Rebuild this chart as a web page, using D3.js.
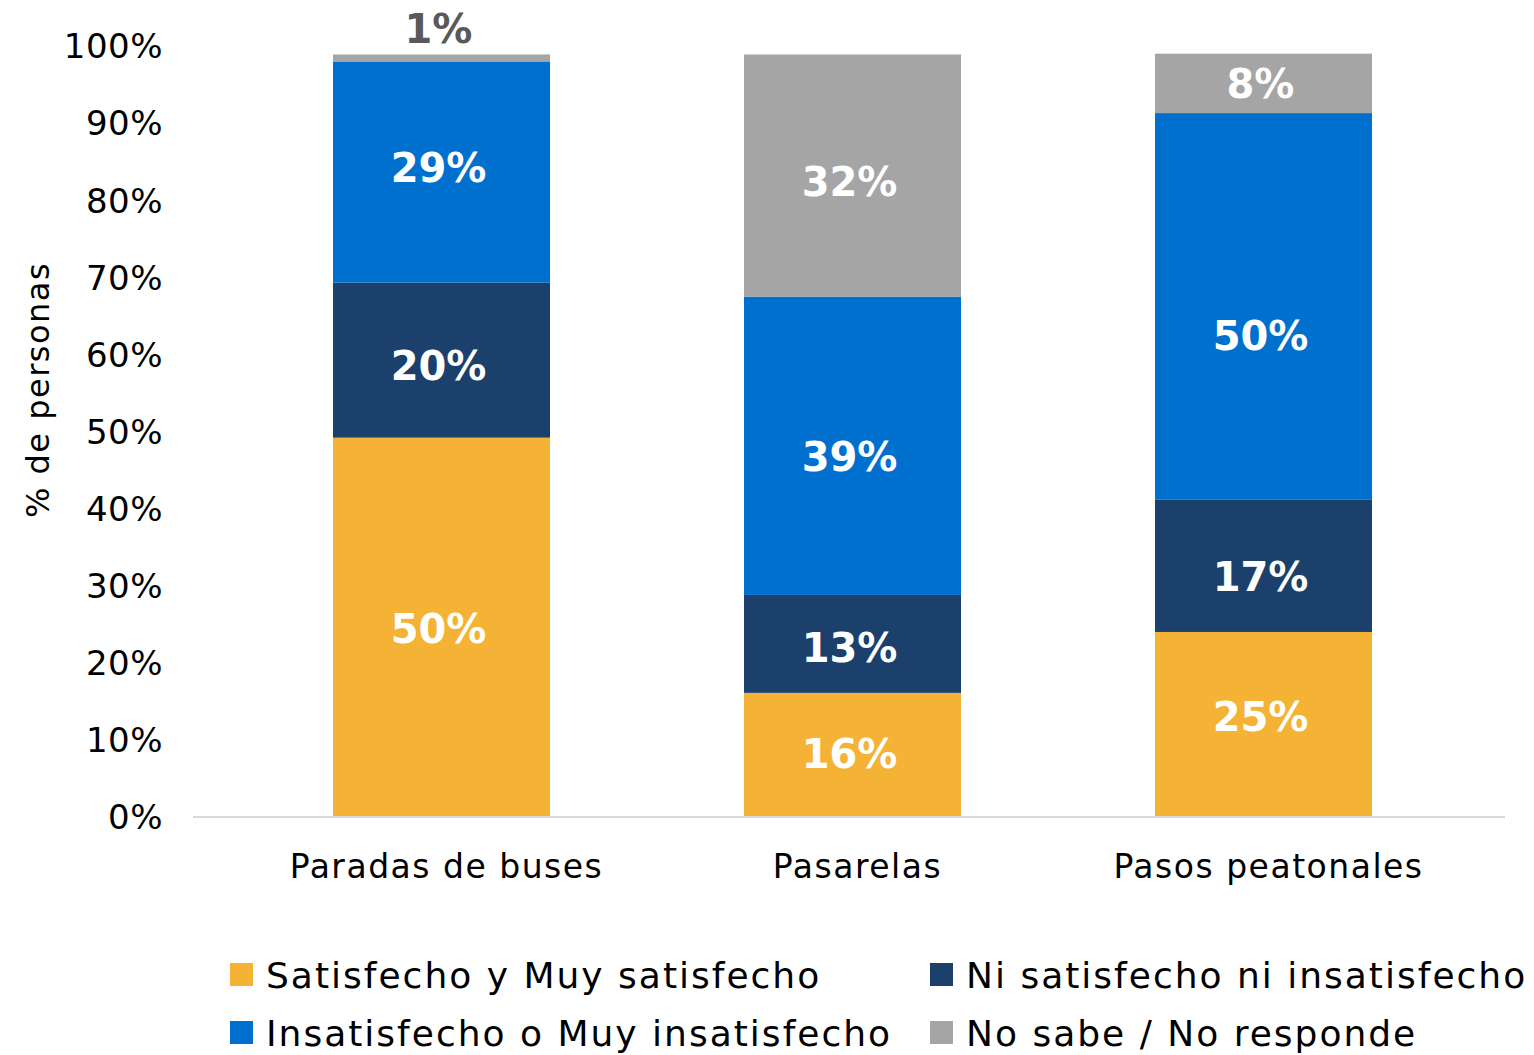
<!DOCTYPE html>
<html>
<head>
<meta charset="utf-8">
<script src="https://cdn.jsdelivr.net/npm/d3@7"></script>
<style>
  body { margin: 0; background: #fff; }
  text { font-family: "DejaVu Sans", sans-serif; }
</style>
</head>
<body>
<svg id="canvas" width="1534" height="1055"></svg>
<script>
// Data
let categories = ["Paradas de buses", "Pasarelas", "Pasos peatonales"];
let seriesNames = [
  "Satisfecho y Muy satisfecho",
  "Ni satisfecho ni insatisfecho",
  "Insatisfecho o Muy insatisfecho",
  "No sabe / No responde"
];
let satisfecho = [49.2, 16.1, 24.0];
let neutro = [20.1, 12.7, 17.2];
let insatisfecho = [28.7, 38.7, 50.1];
let noSabe = [0.9, 31.4, 7.7];
// printed labels
let satisfechoLbl = ["50%", "16%", "25%"];
let neutroLbl = ["20%", "13%", "17%"];
let insatisfechoLbl = ["29%", "39%", "50%"];
let noSabeLbl = ["1%", "32%", "8%"];
let yTicks = [0, 10, 20, 30, 40, 50, 60, 70, 80, 90, 100];
let colors = ["#F4B335", "#1B406C", "#0070CE", "#A5A5A5"];

// label nudges (px) as placed in the original chart
let nudge = [[1, -1, -8], [5, 4, 11], [-4, 11, 29], [0, 6, 0]];

let canvas = d3.select("#canvas");

let x = d3.scaleBand().domain(categories).range([236, 1469]).paddingInner(0.472).paddingOuter(0.236);
let y = d3.scaleLinear().domain([0, 100]).range([817, 46]);

let rows = categories.map((c, i) => ({
  cat: c,
  s0: satisfecho[i], s1: neutro[i], s2: insatisfecho[i], s3: noSabe[i]
}));
let labels = [satisfechoLbl, neutroLbl, insatisfechoLbl, noSabeLbl];
let stacked = d3.stack().keys(["s0", "s1", "s2", "s3"])(rows);

// bars
let groups = canvas.selectAll("g.series")
  .data(stacked)
  .enter()
  .append("g")
  .attr("class", "series")
  .attr("fill", (d, i) => colors[i]);

groups.selectAll("rect")
  .data(d => d)
  .enter()
  .append("rect")
  .attr("x", d => x(d.data.cat))
  .attr("width", x.bandwidth())
  .attr("y", d => y(d[1]))
  .attr("height", d => y(d[0]) - y(d[1]));

// value labels
stacked.forEach((s, si) => {
  s.forEach((d, ci) => {
    let small = d[1] - d[0] < 3;
    canvas.append("text")
      .attr("x", x(d.data.cat) + x.bandwidth() / 2 - 3)
      .attr("y", small ? y(d[1]) - 11 : (y(d[0]) + y(d[1])) / 2 + nudge[si][ci])
      .attr("dy", small ? "0" : "0.36em")
      .attr("text-anchor", "middle")
      .attr("font-size", 40)
      .attr("font-weight", "bold")
      .attr("fill", small ? "#595959" : "#fff")
      .text(labels[si][ci]);
  });
});

// baseline
canvas.append("line")
  .attr("x1", 193).attr("x2", 1505)
  .attr("y1", y(0)).attr("y2", y(0))
  .attr("stroke", "#D9D9D9").attr("stroke-width", 2);

// y axis
let yAxis = d3.axisLeft(y).tickValues(yTicks).tickFormat(d => d + "%").tickSize(0).tickPadding(0);
let yg = canvas.append("g").attr("transform", "translate(163,1)").call(yAxis);
yg.select(".domain").remove();
yg.selectAll("text").attr("font-size", 34).attr("letter-spacing", 0.5)
  .attr("fill", "#000").attr("font-family", "DejaVu Sans");

// x axis labels
let xAxis = d3.axisBottom(x).tickSize(0).tickPadding(0);
let xg = canvas.append("g").attr("transform", "translate(5,855)").call(xAxis);
xg.select(".domain").remove();
xg.selectAll("text").attr("font-size", 33).attr("letter-spacing", 1.5)
  .attr("fill", "#000").attr("font-family", "DejaVu Sans");

// y title
canvas.append("text")
  .attr("transform", "translate(49,390) rotate(-90)")
  .attr("text-anchor", "middle")
  .attr("font-size", 32)
  .attr("letter-spacing", 1.5)
  .attr("fill", "#000")
  .text("% de personas");

// legend
let legendPos = [[230, 975], [930, 975], [230, 1033], [930, 1033]];
seriesNames.forEach((name, i) => {
  let g = canvas.append("g").attr("transform", `translate(${legendPos[i][0]},${legendPos[i][1]})`);
  g.append("rect").attr("x", 0).attr("y", -12).attr("width", 23).attr("height", 23).attr("fill", colors[i]);
  g.append("text").attr("x", 36).attr("y", 0).attr("dy", "0.36em")
    .attr("font-size", 36).attr("letter-spacing", 2).attr("fill", "#000").text(name);
});
</script>
</body>
</html>
